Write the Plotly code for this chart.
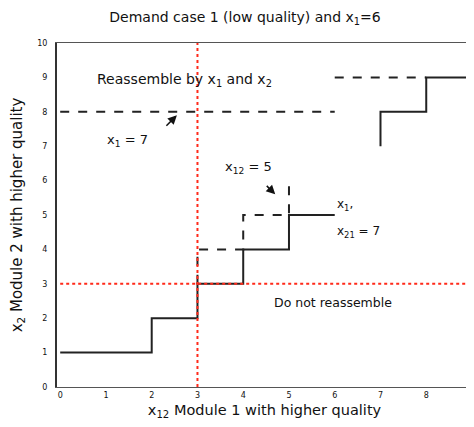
import plotly.graph_objects as go

# Data
solid_low_x = [0, 2, 2, 3, 3, 4, 4, 5, 5, 6]
solid_low_y = [1, 1, 2, 2, 3, 3, 4, 4, 5, 5]
dash_low_x = [3, 3, 4, 4, 5, 5]
dash_low_y = [3, 4, 4, 5, 5, 6]
dash_high_x = [0, 6]
dash_high_y = [8, 8]
dash_top_x = [6, 8]
dash_top_y = [9, 9]
solid_high_x = [7, 7, 8, 8, 9]
solid_high_y = [7, 8, 8, 9, 9]
red_v_x = [3, 3]
red_v_y = [0, 10]
red_h_x = [0, 9]
red_h_y = [3, 3]
x_ticks = list(range(0, 10))
y_ticks = list(range(0, 11))

FONT = "DejaVu Sans, Verdana, sans-serif"

fig = go.Figure()
blk = dict(color="#222222", width=2)
dsh = dict(color="#222222", width=2, dash="dash")
red = dict(color="#ff2a1a", width=2, dash="dot")
fig.add_trace(go.Scatter(x=solid_low_x, y=solid_low_y, mode="lines", line=blk))
fig.add_trace(go.Scatter(x=dash_low_x, y=dash_low_y, mode="lines", line=dsh))
fig.add_trace(go.Scatter(x=dash_high_x, y=dash_high_y, mode="lines", line=dsh))
fig.add_trace(go.Scatter(x=dash_top_x, y=dash_top_y, mode="lines", line=dsh))
fig.add_trace(go.Scatter(x=solid_high_x, y=solid_high_y, mode="lines", line=blk))
fig.add_trace(go.Scatter(x=red_v_x, y=red_v_y, mode="lines", line=red))
fig.add_trace(go.Scatter(x=red_h_x, y=red_h_y, mode="lines", line=red))

def f(size):
    return dict(family=FONT, size=size, color="#111111")

annots = [
    dict(x=0.76, y=8.92, text="Reassemble by x<sub>1</sub> and x<sub>2</sub>", showarrow=False, xanchor="left", font=f(14)),
    dict(x=0.98, y=7.18, text="x<sub>1</sub> = 7", showarrow=False, xanchor="left", font=f(13)),
    dict(x=3.55, y=6.37, text="x<sub>12</sub> = 5", showarrow=False, xanchor="left", font=f(13)),
    dict(x=6.0, y=5.3, text="x<sub>1</sub>,", showarrow=False, xanchor="left", font=f(12)),
    dict(x=6.0, y=4.5, text="x<sub>21</sub> = 7", showarrow=False, xanchor="left", font=f(12)),
    dict(x=4.63, y=2.47, text="Do not reassemble", showarrow=False, xanchor="left", font=f(12.5)),
    dict(x=2.55, y=7.9, ax=-12, ay=12, text="", showarrow=True, arrowhead=2, arrowsize=1.2, arrowwidth=1.5, arrowcolor="#111111"),
    dict(x=4.7, y=5.6, ax=-10, ay=-10, text="", showarrow=True, arrowhead=2, arrowsize=1.2, arrowwidth=1.5, arrowcolor="#111111"),
]
fig.update_layout(annotations=annots)

W, H = 466, 419
fig.update_layout(
    width=W, height=H,
    margin=dict(l=49, r=2, t=35, b=40),
    paper_bgcolor="white", plot_bgcolor="white",
    showlegend=False,
    font=dict(family=FONT, size=9, color="#111111"),
    title=dict(text="Demand case 1 (low quality) and x<sub>1</sub>=6", x=237 / W, xanchor="center",
               y=1 - 9 / H, yanchor="middle", font=f(14)),
)
fig.update_xaxes(range=[-0.07, 9], tickvals=x_ticks, showgrid=False, zeroline=False, automargin=False,
                 showline=True, linecolor="#555555", linewidth=1, mirror=True,
                 ticks="", tickfont=dict(size=8),
                 title=dict(text="x<sub>12</sub> Module 1 with higher quality", font=f(14.5), standoff=6))
fig.update_yaxes(range=[0, 10], tickvals=y_ticks, showgrid=False, zeroline=False, automargin=False,
                 showline=True, linecolor="#333333", linewidth=2, mirror=True,
                 ticks="", tickfont=dict(size=8), ticklabelstandoff=6,
                 title=dict(text="x<sub>2</sub> Module 2 with higher quality", font=f(15), standoff=12))

fig.write_html("out.html")
